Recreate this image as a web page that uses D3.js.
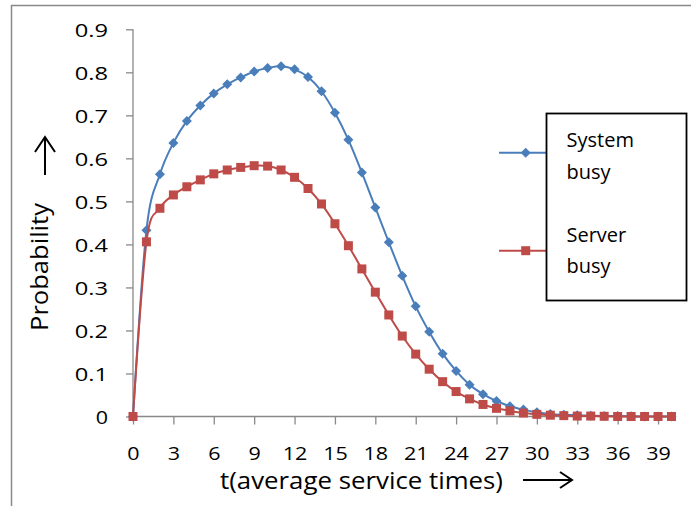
<!DOCTYPE html>
<html>
<head>
<meta charset="utf-8">
<script src="https://cdn.jsdelivr.net/npm/d3@7"></script>
<style>
  body { margin: 0; background: #fff; }
  svg text { font-family: "Open Sans", "Noto Sans", sans-serif; fill: #000; }
</style>
</head>
<body>
<svg id="chart" width="691" height="506"></svg>
<script>
// t values (average service times)
var times = d3.range(0, 41);

// Probability the system is busy
var systemBusy = [0, 0.433, 0.563, 0.636, 0.687, 0.723, 0.751, 0.772, 0.788, 0.802,
  0.810, 0.814, 0.807, 0.789, 0.756, 0.706, 0.643, 0.567, 0.486, 0.405,
  0.327, 0.256, 0.197, 0.146, 0.106, 0.074, 0.052, 0.036, 0.024, 0.016,
  0.010, 0.006, 0.004, 0.003, 0.002, 0.001, 0.001, 0.0005, 0, 0, 0];

// Probability the server is busy
var serverBusy = [0, 0.406, 0.484, 0.515, 0.534, 0.550, 0.564, 0.573, 0.579, 0.583,
  0.582, 0.573, 0.556, 0.530, 0.494, 0.448, 0.397, 0.343, 0.289, 0.236,
  0.187, 0.145, 0.110, 0.081, 0.058, 0.041, 0.028, 0.019, 0.013, 0.008,
  0.005, 0.003, 0.002, 0.001, 0.001, 0.0005, 0, 0, 0, 0, 0];

var xTicks = d3.range(0, 40, 3);
var yTicks = [0, 0.1, 0.2, 0.3, 0.4, 0.5, 0.6, 0.7, 0.8, 0.9];
var seriesNames = ["System busy", "Server busy"];

var svg = d3.select("#chart");
var grey = "#898989";

// the source picture has wide, slightly squat tick digits
function tickLen(s) {
  return d3.sum(s.split(""), c => c === "." ? 8.7 : 12.3);
}

// Outer chart frame (only top and left edges are visible)
svg.append("path")
  .attr("d", "M11.5,506V5.5H691")
  .attr("fill", "none")
  .attr("stroke", grey)
  .attr("stroke-width", 1.5);

var x = d3.scaleLinear().domain([0, 40]).range([133, 671.5]);
var y = d3.scaleLinear().domain([0, 0.9]).range([416.5, 29.3]);

// Y axis
var yAxis = svg.append("g")
  .attr("transform", "translate(133,0)")
  .call(d3.axisLeft(y).tickValues(yTicks).tickSize(7).tickPadding(0)
    .tickFormat(d => d === 0 ? "0" : d3.format(".1f")(d)));
yAxis.select(".domain").attr("stroke", grey).attr("stroke-width", 1.3).attr("d", `M0,${y(0.9)}V${y(0)}`);
yAxis.selectAll(".tick line").attr("stroke", grey).attr("stroke-width", 1.3);
yAxis.selectAll(".tick text")
  .attr("x", -25)
  .attr("dy", "0.36em")
  .style("font-size", "19px")
  .attr("textLength", function() { return tickLen(this.textContent); })
  .attr("lengthAdjust", "spacingAndGlyphs")
  .attr("fill", "#000");

// X axis
var xAxis = svg.append("g")
  .attr("transform", `translate(0,${y(0)})`)
  .call(d3.axisBottom(x).tickValues(xTicks).tickSize(8).tickPadding(0));
xAxis.select(".domain").attr("stroke", grey).attr("stroke-width", 1.3).attr("d", `M${x(0)},0H${x(40.2)}`);
xAxis.selectAll(".tick line").attr("stroke", grey).attr("stroke-width", 1.3);
xAxis.selectAll(".tick text")
  .attr("y", 43)
  .attr("dy", 0)
  .style("font-size", "19px")
  .attr("textLength", function() { return tickLen(this.textContent); })
  .attr("lengthAdjust", "spacingAndGlyphs")
  .attr("fill", "#000");

// Axis titles
svg.append("text")
  .attr("x", 220)
  .attr("y", 489)
  .style("font-size", "23px")
  .attr("textLength", 283)
  .attr("lengthAdjust", "spacingAndGlyphs")
  .text("t(average service times)");

svg.append("text")
  .attr("transform", "translate(48,267) rotate(-90)")
  .attr("text-anchor", "middle")
  .style("font-size", "24px")
  .attr("textLength", 128)
  .attr("lengthAdjust", "spacingAndGlyphs")
  .text("Probability");

// Hand-drawn arrows next to the titles
var arrows = svg.append("g").attr("fill", "none").attr("stroke", "#000").attr("stroke-width", 2);
arrows.append("path").attr("d", "M45,175V137M35,152L45,137L55,152");
arrows.append("path").attr("d", "M523,480H572M560,472L572,480L560,488");

// Series
var line = d3.line().curve(d3.curveCardinal.tension(0));
var seriesData = [
  {name: seriesNames[0], values: systemBusy, color: "#4A7EBB", marker: "diamond"},
  {name: seriesNames[1], values: serverBusy, color: "#BE4B48", marker: "square"}
];

function markerPath(type) {
  return type === "diamond" ? "M0,-5L5,0L0,5L-5,0Z" : "M-4.5,-4.5H4.5V4.5H-4.5Z";
}

seriesData.forEach(function(s) {
  var pts = times.map((t, i) => [x(t), y(s.values[i])]);
  var g = svg.append("g");
  g.append("path")
    .attr("d", line(pts))
    .attr("fill", "none")
    .attr("stroke", s.color)
    .attr("stroke-width", 2);
  g.selectAll("path.marker")
    .data(pts).enter()
    .append("path")
    .attr("class", "marker")
    .attr("d", markerPath(s.marker))
    .attr("transform", p => `translate(${p[0]},${p[1]})`)
    .attr("fill", s.color);
});

// Legend
var legendRows = [
  {s: seriesData[0], ly: 152.7, lines: ["System", "busy"], ty: 147},
  {s: seriesData[1], ly: 250.7, lines: ["Server", "busy"], ty: 241.5}
];
legendRows.forEach(function(r) {
  svg.append("line")
    .attr("x1", 499).attr("x2", 547)
    .attr("y1", r.ly).attr("y2", r.ly)
    .attr("stroke", r.s.color).attr("stroke-width", 2);
  svg.append("path")
    .attr("d", markerPath(r.s.marker))
    .attr("transform", `translate(525.7,${r.ly})`)
    .attr("fill", r.s.color);
});
svg.append("rect")
  .attr("x", 546.5).attr("y", 113.5)
  .attr("width", 140).attr("height", 187)
  .attr("fill", "#fff")
  .attr("stroke", "#000")
  .attr("stroke-width", 1.8);
legendRows.forEach(function(r) {
  r.lines.forEach(function(t, i) {
    svg.append("text")
      .attr("x", 566.5)
      .attr("y", r.ty + i * 31.5)
      .style("font-size", "20px")
      .text(t);
  });
});
</script>
</body>
</html>
